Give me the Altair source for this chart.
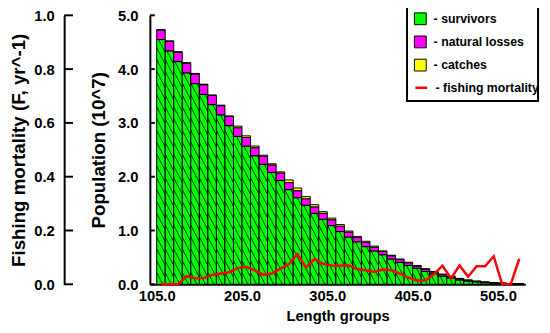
import altair as alt
import pandas as pd

# ---------------- data ----------------
length_groups = [105, 115, 125, 135, 145, 155, 165, 175, 185, 195,
                 205, 215, 225, 235, 245, 255, 265, 275, 285, 295,
                 305, 315, 325, 335, 345, 355, 365, 375, 385, 395,
                 405, 415, 425, 435, 445, 455, 465, 475, 485, 495,
                 505, 515, 525]
survivors = [4.55, 4.34, 4.14, 3.93, 3.73, 3.53, 3.34, 3.15, 2.95, 2.75,
             2.57, 2.39, 2.23, 2.08, 1.93, 1.76, 1.61, 1.47, 1.32, 1.21,
             1.09, 0.98, 0.88, 0.79, 0.70, 0.62, 0.55, 0.47, 0.41, 0.35,
             0.30, 0.24, 0.20, 0.15, 0.12, 0.08, 0.06, 0.045, 0.03, 0.024,
             0.017, 0.012, 0.008]
natural_losses = [0.18, 0.18, 0.18, 0.18, 0.18, 0.18, 0.17, 0.17, 0.17, 0.16,
                  0.16, 0.15, 0.15, 0.14, 0.14, 0.13, 0.13, 0.12, 0.12, 0.11,
                  0.11, 0.10, 0.09, 0.08, 0.08, 0.07, 0.06, 0.06, 0.05, 0.05,
                  0.04, 0.04, 0.03, 0.03, 0.02, 0.02, 0.015, 0.01, 0.01, 0.005,
                  0.003, 0.002, 0.001]
catches = [0.0, 0.0, 0.0, 0.01, 0.01, 0.01, 0.01, 0.01, 0.01, 0.03,
           0.03, 0.03, 0.02, 0.02, 0.02, 0.05, 0.05, 0.04, 0.04, 0.03,
           0.03, 0.03, 0.02, 0.02, 0.02, 0.02, 0.01, 0.01, 0.01, 0.01,
           0.01, 0.01, 0.01, 0.01, 0.01, 0.01, 0.005, 0.005, 0.002, 0.001,
           0.0, 0.0, 0.001]
fishing_mortality = [0.0, 0.0, 0.0, 0.03, 0.022, 0.023, 0.035, 0.04, 0.045, 0.06,
                     0.065, 0.052, 0.036, 0.04, 0.058, 0.075, 0.112, 0.063, 0.094, 0.076,
                     0.07, 0.069, 0.07, 0.057, 0.052, 0.046, 0.055, 0.052, 0.04, 0.025,
                     0.014, 0.014, 0.038, 0.069, 0.022, 0.07, 0.028, 0.067, 0.067, 0.104,
                     0.0, 0.0, 0.095]

components = ["survivors", "natural losses", "catches"]
component_colors = ["#00FF00", "#FF00FF", "#FFFF00"]
line_series = ["fishing mortality"]
line_colors = ["#FF0000"]

x_tick_values = [105, 205, 305, 405, 505]
pop_tick_values = [0, 1, 2, 3, 4, 5]
f_tick_values = [0, 0.2, 0.4, 0.6, 0.8, 1.0]

GROUP_WIDTH = 10
FONT = "Liberation Sans"

# ---------------- tables built from the arrays ----------------
rows = []
for L, s, n, c in zip(length_groups, survivors, natural_losses, catches):
    base = 0.0
    for comp, val in zip(components, [s, n, c]):
        rows.append({"x0": L, "x1": L + GROUP_WIDTH, "y0": base, "y1": base + val,
                     "component": comp})
        base += val
bars_df = pd.DataFrame(rows)

# diagonal hatch of the survivors part of each bar
HATCH_STEP = 0.22
HATCH_DROP = 0.31
hatch = []
for L, s in zip(length_groups, survivors):
    k = 1
    while True:
        yl = k * HATCH_STEP
        yr = yl - HATCH_DROP
        if yr >= s:
            break
        hx0, hy0, hx1, hy1 = L, yl, L + GROUP_WIDTH, yr
        if hy1 < 0:
            hx1 = L + GROUP_WIDTH * yl / HATCH_DROP
            hy1 = 0.0
        if hy0 > s:
            hx0 = L + GROUP_WIDTH * (yl - s) / HATCH_DROP
            hy0 = s
        hatch.append({"hx0": hx0, "hx1": hx1, "hy0": hy0, "hy1": hy1})
        k += 1
hatch_df = pd.DataFrame(hatch)

line_df = pd.DataFrame({"mid": [L + GROUP_WIDTH / 2 for L in length_groups],
                        "F": fishing_mortality,
                        "series": line_series[0]})
pop_ticks_df = pd.DataFrame({"v": pop_tick_values})
f_ticks_df = pd.DataFrame({"v": f_tick_values})
frame_df = pd.DataFrame({"k": [0]})

x_scale = alt.Scale(domain=[97, 537], nice=False, zero=False)
pop_scale = alt.Scale(domain=[0, 5], nice=False)
f_scale = alt.Scale(domain=[0, 1], nice=False)

legend_common = dict(title=None, orient="none", padding=0,
                     labelFont=FONT, labelFontSize=12.5, labelFontWeight="bold",
                     labelColor="black", labelOffset=7, rowPadding=6.5,
                     labelExpr="'- ' + datum.label")

axis_style = dict(domainColor="black", domainWidth=2, grid=False, ticks=False,
                  labelFont=FONT, labelFontSize=15, labelFontWeight="bold",
                  labelColor="black", titleFont=FONT, titleFontSize=15,
                  titleFontWeight="bold", titleColor="black")
y_axis_style = dict(axis_style, titleFontSize=19)

x_axis = alt.Axis(values=x_tick_values, format=".1f", title="Length groups",
                  labelPadding=4, titlePadding=6, **axis_style)

bars = alt.Chart(bars_df).mark_rect(stroke="black", strokeWidth=1).encode(
    x=alt.X("x0:Q", scale=x_scale, axis=x_axis),
    x2="x1:Q",
    y=alt.Y("y0:Q", scale=pop_scale,
            axis=alt.Axis(values=pop_tick_values, format=".1f",
                          title="Population (10^7)", labelPadding=12, titlePadding=9,
                          **y_axis_style)),
    y2="y1:Q",
    fill=alt.Fill("component:N",
                  scale=alt.Scale(domain=components, range=component_colors),
                  legend=alt.Legend(legendX=268, legendY=-3, symbolType="square",
                                    symbolSize=144, symbolStrokeColor="black",
                                    symbolStrokeWidth=1, **legend_common)),
)

hatch_layer = alt.Chart(hatch_df).mark_rule(color="black", strokeWidth=1, opacity=0.8).encode(
    x=alt.X("hx0:Q", scale=x_scale, axis=x_axis),
    x2="hx1:Q",
    y=alt.Y("hy0:Q", scale=pop_scale, axis=None),
    y2="hy1:Q",
)

pop_ticks = alt.Chart(pop_ticks_df).mark_rule(color="black", strokeWidth=2).encode(
    y=alt.Y("v:Q", scale=pop_scale, axis=None),
    x=alt.value(0),
    x2=alt.value(5),
)

frame = alt.Chart(frame_df).mark_rect(fill="white", fillOpacity=0, stroke="black",
                                      strokeWidth=2).encode(
    x=alt.value(261), x2=alt.value(394), y=alt.value(-10), y2=alt.value(87)
)

f_line = alt.Chart(line_df).mark_line(strokeWidth=2.5).encode(
    x=alt.X("mid:Q", scale=x_scale, axis=x_axis),
    y=alt.Y("F:Q", scale=f_scale,
            axis=alt.Axis(orient="left", offset=87, values=f_tick_values, format=".1f",
                          title="Fishing mortality (F, yr^-1)", labelPadding=10,
                          titlePadding=5, **y_axis_style)),
    stroke=alt.Stroke("series:N", scale=alt.Scale(domain=line_series, range=line_colors),
                      legend=alt.Legend(legendX=268, legendY=66, symbolType="stroke",
                                        symbolSize=144, symbolStrokeWidth=2.5,
                                        **legend_common)),
)

f_ticks = alt.Chart(f_ticks_df).mark_rule(color="black", strokeWidth=2).encode(
    y=alt.Y("v:Q", scale=f_scale, axis=None),
    x=alt.value(-87),
    x2=alt.value(-78),
)

chart = alt.layer(bars, hatch_layer, pop_ticks, frame, f_line, f_ticks).resolve_scale(
    y="independent"
).properties(
    width=381,
    height=273,
    autosize=alt.AutoSizeParams(type="none"),
    padding={"left": 144, "top": 5, "right": 17, "bottom": 47},
).configure_view(
    stroke=None
)

chart.save("out.html", embed_options={"renderer": "svg", "actions": False})
